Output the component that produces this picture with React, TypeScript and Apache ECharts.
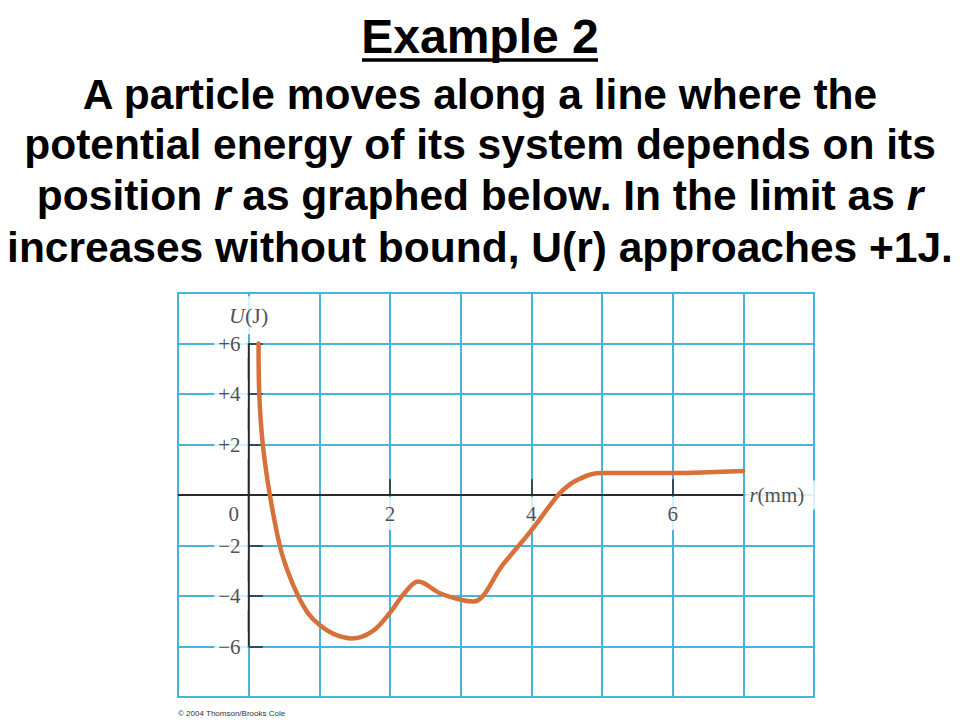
import React, { useEffect, useRef } from 'react';
import * as echarts from 'echarts';

// Curve U(r)
const rValues = [0.14, 0.15, 0.2, 0.3, 0.44, 0.55, 0.7, 0.85, 1.0, 1.2, 1.46, 1.75, 2.0, 2.2, 2.4, 2.7, 3.0, 3.18, 3.6, 4.0, 4.38, 4.55, 4.7, 4.85, 5.0, 5.5, 6.0, 6.5, 7.0];
const uValues = [6, 4, 2, 0, -2, -3.0, -4, -4.72, -5.14, -5.5, -5.68, -5.4, -4.66, -3.9, -3.43, -3.88, -4.15, -4.22, -2.75, -1.4, 0, 0.43, 0.66, 0.82, 0.87, 0.87, 0.87, 0.9, 0.95];

const xTickLabels = [2, 4, 6];
const yTickLabels = [6, 4, 2, -2, -4, -6];

const titleText = 'Example 2';
const paragraphLines = [
  '{a|A particle moves along a line where the}',
  '{a|potential energy of its system depends on its}',
  '{a|position }{i|r}{a| as graphed below. In the limit as }{i|r}',
  '{a|increases without bound, U(r) approaches +1J.}',
];
const copyrightText = '\u00a9 2004 Thomson/Brooks Cole';

const BLUE = '#47b4de';
const ORANGE = '#d8703a';
const AXIS = '#2a2a2a';
const LABEL = '#222222';
const SERIF = '"Liberation Serif", "Times New Roman", serif';
const SANS = '"Liberation Sans", Arial, sans-serif';

const fmtY = (v: number) => (v > 0 ? `+${v}` : `\u2212${Math.abs(v)}`);

export default function App() {
  const ref = useRef<HTMLDivElement>(null);
  useEffect(() => {
    if (!ref.current) return;
    const chart = echarts.init(ref.current, undefined, { renderer: 'svg' });
    const curve = rValues.map((r, i) => [r, uValues[i]]);
    const paraRich = {
      a: { fontSize: 42.5, fontWeight: 'bold', fontFamily: SANS, fill: '#000', color: '#000' },
      i: { fontSize: 42.5, fontWeight: 'bold', fontStyle: 'italic', fontFamily: SANS, fill: '#000', color: '#000' },
    };
    const paraY = [94, 144, 195, 247];
    const option: any = {
      animation: false,
      backgroundColor: '#fff',
      grid: {
        left: 178, top: 293, width: 636, height: 404,
        show: true, borderColor: BLUE, borderWidth: 2, backgroundColor: 'transparent',
      },
      xAxis: {
        type: 'value', min: -1, max: 8, interval: 1,
        axisLine: { show: false }, axisTick: { show: false }, axisLabel: { show: false },
        splitLine: { show: true, lineStyle: { color: BLUE, width: 2 } },
      },
      yAxis: {
        type: 'value', min: -8, max: 8, interval: 2,
        axisLine: { show: false }, axisTick: { show: false }, axisLabel: { show: false },
        splitLine: { show: true, lineStyle: { color: BLUE, width: 2 } },
      },
      graphic: [
        {
          type: 'text', x: 480, y: 36,
          style: { text: titleText, font: `bold 48px ${SANS}`, fill: '#000', textAlign: 'center', textVerticalAlign: 'middle' },
        },
        {
          type: 'line', shape: { x1: 362, y1: 60, x2: 598, y2: 60 },
          style: { stroke: '#000', lineWidth: 3.5 },
        },
        ...paragraphLines.map((t, i) => ({
          type: 'text', x: 480, y: paraY[i],
          style: {
            text: t, rich: paraRich, fontSize: 42.5, fontWeight: 'bold', fontFamily: SANS,
            fill: '#000', textAlign: 'center', textVerticalAlign: 'middle',
          },
        })),
        {
          type: 'text', x: 178, y: 713,
          style: { text: copyrightText, font: `8px ${SANS}`, fill: '#333', textAlign: 'left', textVerticalAlign: 'middle' },
        },
      ],
      series: [
        {
          type: 'line', data: [[-1, 0], [7, 0]], symbol: 'none', silent: true, z: 3,
          lineStyle: { color: AXIS, width: 2 },
          markLine: {
            silent: true, symbol: 'none', label: { show: false },
            lineStyle: { color: AXIS, width: 1.5, type: 'solid' },
            data: [
              ...yTickLabels.map((v) => [{ coord: [0, v] }, { coord: [0.2, v] }]),
              ...xTickLabels.map((v) => [{ coord: [v, 0] }, { coord: [v, 0.62] }]),
            ],
          },
        },
        {
          type: 'line', data: [[0, -6], [0, 6]], symbol: 'none', silent: true, z: 3,
          lineStyle: { color: AXIS, width: 2 },
        },
        {
          type: 'scatter', symbolSize: 0.1, itemStyle: { color: 'transparent' }, silent: true, z: 4,
          data: yTickLabels.map((v) => [0, v]),
          label: {
            show: true, position: 'left', distance: 1,
            formatter: (p: any) => fmtY(p.value[1]),
            backgroundColor: '#fff', padding: [4, 7, 4, 4],
            fontFamily: SERIF, fontSize: 21, color: LABEL,
          },
        },
        {
          type: 'scatter', symbolSize: 0.1, itemStyle: { color: 'transparent' }, silent: true, z: 4,
          data: xTickLabels.map((v) => [v, 0]),
          label: {
            show: true, position: 'bottom', distance: 2,
            formatter: (p: any) => String(p.value[0]),
            backgroundColor: '#fff', padding: [6, 5, 6, 5],
            fontFamily: SERIF, fontSize: 21, color: LABEL,
          },
        },
        {
          type: 'scatter', symbolSize: 0.1, itemStyle: { color: 'transparent' }, silent: true, z: 4,
          data: [[0, 0]],
          label: {
            show: true, position: 'bottom', distance: 8, offset: [-15, 0],
            formatter: '0', fontFamily: SERIF, fontSize: 21, color: LABEL,
          },
        },
        {
          type: 'scatter', symbolSize: 0.1, itemStyle: { color: 'transparent' }, silent: true, z: 4,
          data: [[0, 7.12]],
          label: {
            show: true, position: 'inside',
            formatter: '{i|U}{n|(J)}',
            backgroundColor: '#fff', padding: [8, 3, 8, 3],
            rich: {
              i: { fontFamily: SERIF, fontSize: 22, fontStyle: 'italic', color: LABEL },
              n: { fontFamily: SERIF, fontSize: 22, color: LABEL },
            },
          },
        },
        {
          type: 'scatter', symbolSize: 0.1, itemStyle: { color: 'transparent' }, silent: true, z: 4,
          data: [[7, 0]],
          label: {
            show: true, position: 'right', distance: 2,
            formatter: '{i|r}{n|(mm)}',
            backgroundColor: '#fff', padding: [4, 12, 4, 4],
            rich: {
              i: { fontFamily: SERIF, fontSize: 21, fontStyle: 'italic', color: LABEL },
              n: { fontFamily: SERIF, fontSize: 21, color: LABEL },
            },
          },
        },
        {
          type: 'line', data: curve, symbol: 'none', smooth: 0.35, silent: true, z: 10,
          lineStyle: { color: ORANGE, width: 4.5, cap: 'round', join: 'round' },
        },
      ],
    };
    chart.setOption(option);
    return () => chart.dispose();
  }, []);
  return <div ref={ref} style={{ position: 'absolute', left: 0, top: 0, width: 960, height: 720 }} />;
}
